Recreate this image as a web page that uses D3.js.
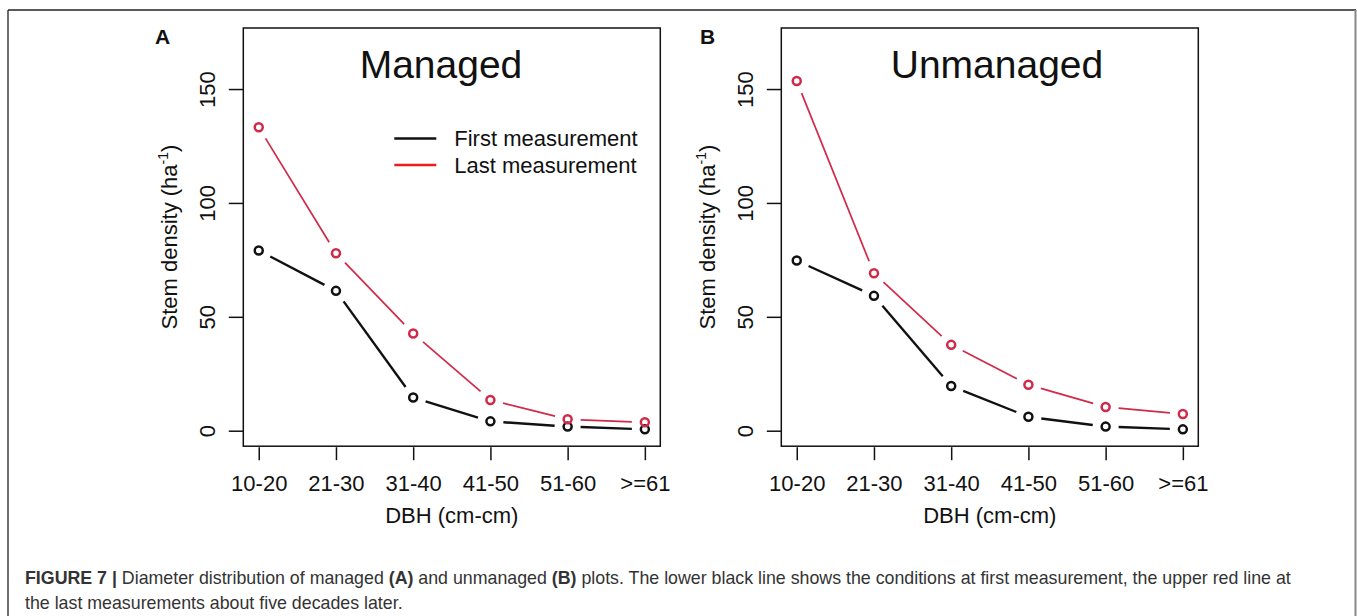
<!DOCTYPE html>
<html>
<head>
<meta charset="utf-8">
<script src="https://cdn.jsdelivr.net/npm/d3@7"></script>
<style>
  body { margin: 0; background: white; }
  svg { display: block; font-family: "Liberation Sans", Arial, sans-serif; }
</style>
</head>
<body>
<div id="chart"></div>
<script>
// diameter classes and stem densities (ha-1)
const dbhClasses = ["10-20", "21-30", "31-40", "41-50", "51-60", ">=61"];
const managedFirst = [79.1, 61.4, 14.6, 4.1, 1.8, 0.6];
const managedLast = [133.2, 77.9, 42.7, 13.5, 5.0, 3.7];
const unmanagedFirst = [74.7, 59.2, 19.6, 6.1, 1.8, 0.6];
const unmanagedLast = [153.5, 69.1, 37.7, 20.2, 10.4, 7.3];
const yTicks = [0, 50, 100, 150];
const legendLabels = ["First measurement", "Last measurement"];

const width = 1357;
const height = 616;
const colFirst = "#111";
const colLast = "#d02a48";

const svg = d3.select("#chart")
  .append("svg")
  .attr("width", width)
  .attr("height", height)
  .style("background", "white");

// outer frame of the figure
svg.append("line").attr("x1", 8).attr("y1", 10).attr("x2", 1356).attr("y2", 10)
  .attr("stroke", "#222").attr("stroke-width", 1.3);
svg.append("line").attr("x1", 8).attr("y1", 10).attr("x2", 8).attr("y2", height)
  .attr("stroke", "#222").attr("stroke-width", 1.3);
svg.append("line").attr("x1", 1355.5).attr("y1", 10).attr("x2", 1355.5).attr("y2", height)
  .attr("stroke", "#888").attr("stroke-width", 2);

function drawPanel(opts) {
  const top = 28, bottom = 446.2;
  const left = opts.left, right = opts.left + 417;

  const x = d3.scalePoint()
    .domain(dbhClasses)
    .range([left, right])
    .padding(0.2);

  // R style: ylim 0-170 widened by 4%
  const y = d3.scaleLinear()
    .domain([-6.8, 176.8])
    .range([bottom, top]);

  const g = svg.append("g");

  // x axis
  const xAxis = g.append("g")
    .attr("transform", `translate(0,${bottom + 1})`)
    .call(d3.axisBottom(x).tickSize(13).tickSizeOuter(0).tickPadding(15));
  xAxis.select(".domain").remove();
  xAxis.selectAll("line").attr("stroke", "#111").attr("stroke-width", 1.5);
  xAxis.selectAll("text")
    .attr("font-size", "22px")
    .attr("font-family", "Liberation Sans, Arial, sans-serif")
    .attr("fill", "#111");

  // y axis
  const yAxis = g.append("g")
    .attr("transform", `translate(${left},0)`)
    .call(d3.axisLeft(y).tickValues(yTicks).tickSize(14.5).tickSizeOuter(0));
  yAxis.select(".domain").remove();
  yAxis.selectAll("line").attr("stroke", "#111").attr("stroke-width", 1.5);
  yAxis.selectAll("text")
    .attr("font-size", "22px")
    .attr("font-family", "Liberation Sans, Arial, sans-serif")
    .attr("fill", "#111")
    .attr("text-anchor", "middle")
    .attr("x", 0)
    .attr("dy", null)
    .attr("transform", "translate(-36,0) rotate(-90)")
    .attr("dominant-baseline", "central");

  // box
  g.append("rect")
    .attr("x", left).attr("y", top)
    .attr("width", right - left).attr("height", bottom - top)
    .attr("fill", "none").attr("stroke", "#111").attr("stroke-width", 1.5);

  // axis titles
  g.append("text")
    .attr("x", (left + right) / 2)
    .attr("y", 523)
    .attr("text-anchor", "middle")
    .attr("font-size", "22px")
    .attr("fill", "#111")
    .text("DBH (cm-cm)");

  const yt = g.append("text")
    .attr("transform", `translate(${left - 66},${(top + bottom) / 2}) rotate(-90)`)
    .attr("text-anchor", "middle")
    .attr("font-size", "22px")
    .attr("fill", "#111");
  yt.append("tspan").text("Stem density (ha");
  yt.append("tspan").attr("font-size", "14px").attr("dy", -9).text("-1");
  yt.append("tspan").attr("dy", 9).text(")");

  // panel title and letter
  g.append("text")
    .attr("x", opts.titleX)
    .attr("y", 78)
    .attr("text-anchor", "middle")
    .attr("font-size", "39px")
    .attr("fill", "#111")
    .text(opts.title);

  g.append("text")
    .attr("x", opts.letterX)
    .attr("y", 44)
    .attr("font-size", "21px")
    .attr("font-weight", "bold")
    .attr("fill", "#111")
    .text(opts.letter);

  // series drawn like R type="b": segments with gaps around the points
  const gap = 13;
  [[opts.first, colFirst, 2.4], [opts.last, colLast, 1.7]].forEach(([vals, col, lw]) => {
    const pts = vals.map((v, i) => [x(dbhClasses[i]), y(v)]);
    const segs = d3.pairs(pts).map(([a, b]) => {
      const dx = b[0] - a[0], dy = b[1] - a[1];
      const len = Math.hypot(dx, dy);
      const ux = dx / len, uy = dy / len;
      return [a[0] + ux * gap, a[1] + uy * gap, b[0] - ux * gap, b[1] - uy * gap];
    });
    g.selectAll(null)
      .data(segs)
      .enter()
      .append("line")
        .attr("x1", d => d[0]).attr("y1", d => d[1])
        .attr("x2", d => d[2]).attr("y2", d => d[3])
        .attr("stroke", col)
        .attr("stroke-width", lw);
    g.selectAll(null)
      .data(vals)
      .enter()
      .append("circle")
        .attr("cx", (d, i) => x(dbhClasses[i]))
        .attr("cy", d => y(d))
        .attr("r", 4)
        .attr("fill", "none")
        .attr("stroke", col)
        .attr("stroke-width", 2.5);
  });

  if (opts.legend) {
    const legendCols = ["#111", "#ee1b1b"];
    legendLabels.forEach((lab, i) => {
      const ly = 138.5 + i * 26.5;
      g.append("line")
        .attr("x1", left + 151).attr("x2", left + 193)
        .attr("y1", ly).attr("y2", ly)
        .attr("stroke", legendCols[i]).attr("stroke-width", 2.6);
      g.append("text")
        .attr("x", left + 211)
        .attr("y", ly + 7.5)
        .attr("font-size", "22px")
        .attr("fill", "#111")
        .text(lab);
    });
  }
}

drawPanel({
  left: 243.3, title: "Managed", titleX: 441, letter: "A", letterX: 155,
  first: managedFirst, last: managedLast, legend: true
});
drawPanel({
  left: 781.3, title: "Unmanaged", titleX: 997, letter: "B", letterX: 700,
  first: unmanagedFirst, last: unmanagedLast, legend: false
});

// caption
const cap = svg.append("g").attr("fill", "#333").attr("font-size", "17.8px");
const l1 = cap.append("text").attr("x", 25).attr("y", 584);
l1.append("tspan").attr("font-weight", "bold").text("FIGURE 7 | ");
l1.append("tspan").text("Diameter distribution of managed ");
l1.append("tspan").attr("font-weight", "bold").text("(A)");
l1.append("tspan").text(" and unmanaged ");
l1.append("tspan").attr("font-weight", "bold").text("(B)");
l1.append("tspan").text(" plots. The lower black line shows the conditions at first measurement, the upper red line at");
cap.append("text").attr("x", 25).attr("y", 609)
  .text("the last measurements about five decades later.");
</script>
</body>
</html>
